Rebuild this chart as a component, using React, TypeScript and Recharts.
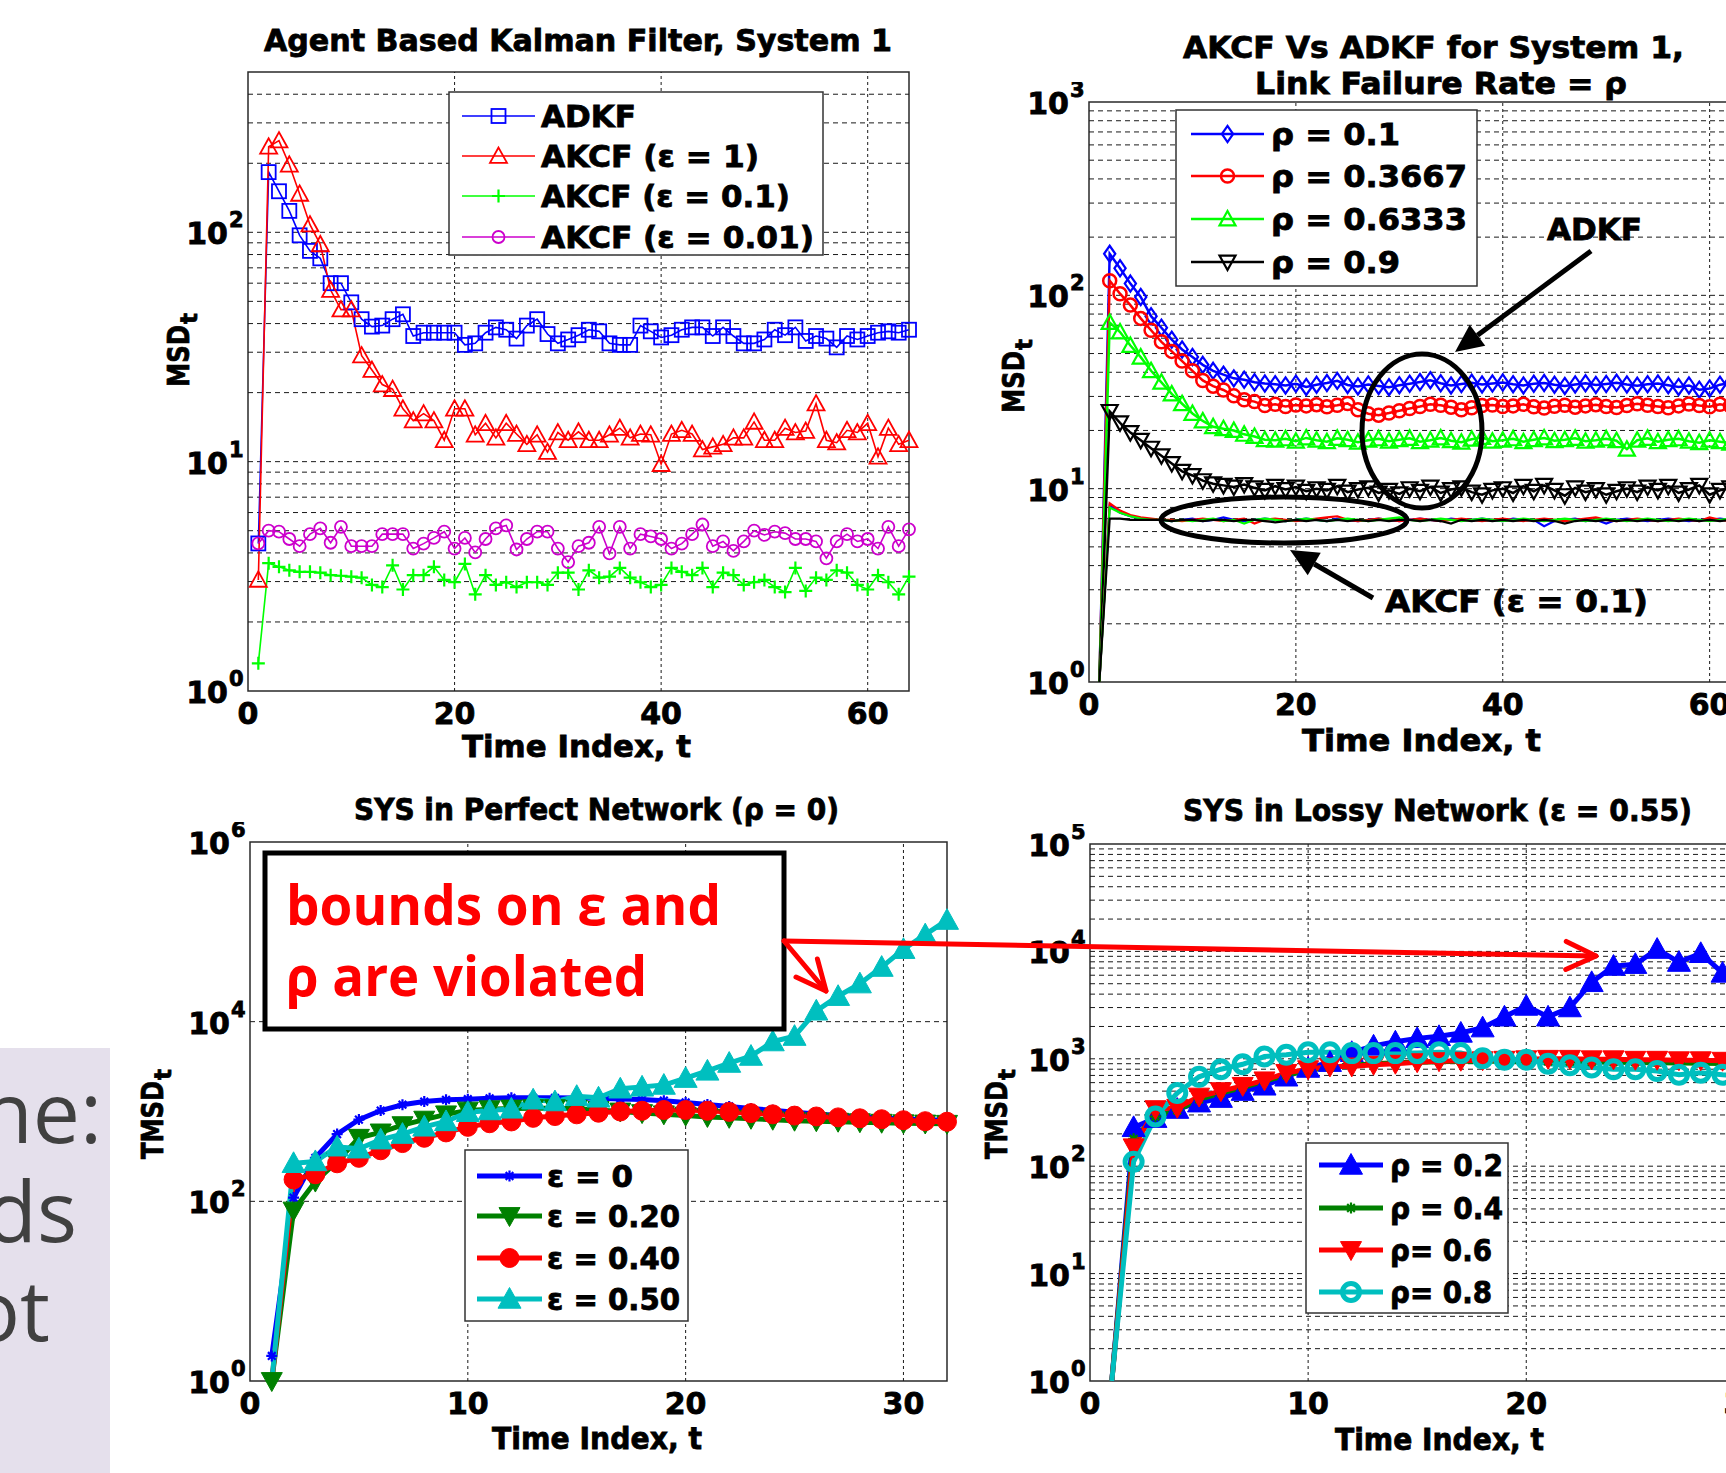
import React from "react";
import { LineChart, Line, XAxis, YAxis, ReferenceLine, ReferenceArea } from "recharts";

const MAT_FONT = "'DejaVu Sans', Verdana, sans-serif";
const SLIDE_FONT = "'Open Sans', 'Noto Sans', sans-serif";

// ---------- top left: Agent Based Kalman Filter, System 1 (t = 1..64)
const timeA = Array.from({ length: 64 }, (_, i) => i + 1);
const adkfA = [
  4.4, 183, 151, 124, 97, 83, 77, 60, 60, 49.5,
  41.8, 38.8, 39.2, 41.8, 43.9, 35.3, 36.5, 36.5, 36.5, 36.5,
  32.3, 32.8, 36.5, 38.5, 37.6, 34.4, 39.2, 41.8, 36, 32.8,
  34.1, 35.6, 37.6, 37, 32.8, 32.3, 32.3, 39.2, 37, 34.8,
  35.6, 37.6, 38.5, 38.5, 35.3, 38.5, 35.3, 32.8, 32.8, 34.1,
  37.6, 35.6, 38.5, 33.6, 35.3, 34.4, 31.5, 35.3, 34.1, 35.3,
  36.5, 37, 36.5, 37.6,
];
const akcfEps1A = [
  3.05, 236, 251, 197, 147, 108, 88.5, 56, 46, 46,
  29, 25.1, 21.7, 20.7, 17, 15.1, 16.2, 15.1, 12.4, 17,
  17, 13.1, 14.7, 12.7, 14.7, 13.2, 11.9, 13.1, 11, 13.4,
  12.4, 13.5, 12.4, 12.4, 13.1, 14, 12.7, 13.2, 13.1, 9.75,
  13.2, 13.7, 13.2, 11.3, 11.6, 11.9, 12.7, 12.7, 14.9, 12.4,
  12.4, 14, 13.4, 13.6, 17.9, 12.4, 12.1, 13.7, 13.4, 14.7,
  10.5, 14, 11.9, 12.4,
];
const akcfEps01A = [
  1.32, 3.61, 3.48, 3.36, 3.31, 3.31, 3.28, 3.2, 3.18, 3.15,
  3.12, 2.9, 2.84, 3.53, 2.77, 3.2, 3.2, 3.48, 3.05, 2.98,
  3.58, 2.64, 3.2, 2.9, 2.98, 2.84, 2.98, 2.98, 2.9, 3.28,
  3.28, 2.77, 3.36, 3.12, 3.15, 3.44, 3.12, 2.98, 2.84, 2.9,
  3.44, 3.31, 3.2, 3.44, 2.84, 3.28, 3.2, 2.9, 2.98, 3.05,
  2.84, 2.7, 3.44, 2.73, 3.12, 3.05, 3.36, 3.28, 2.9, 2.77,
  3.2, 2.98, 2.64, 3.15,
];
const akcfEps001A = [
  4.4, 5.0, 4.95, 4.6, 4.28, 4.83, 5.12, 4.43, 5.2, 4.28,
  4.28, 4.28, 4.83, 4.83, 4.83, 4.18, 4.39, 4.65, 4.95, 4.18,
  4.65, 4.02, 4.6, 5.12, 5.27, 4.14, 4.6, 4.95, 4.95, 4.18,
  3.65, 4.28, 4.43, 5.2, 3.98, 5.2, 4.18, 4.83, 4.72, 4.6,
  4.18, 4.39, 4.83, 5.32, 4.28, 4.49, 4.08, 4.49, 5.0, 4.79,
  4.95, 4.88, 4.6, 4.6, 4.49, 3.79, 4.49, 4.83, 4.49, 4.6,
  4.18, 5.2, 4.28, 5.07,
];

// ---------- top right: AKCF Vs ADKF, link failure rate rho (t = 1..64)
const timeB = Array.from({ length: 64 }, (_, i) => i + 1);
const adkfRho01B = [
  1, 164, 138, 115, 98, 78, 68, 59, 52.5, 48,
  43.7, 40.7, 38.9, 37.2, 36.6, 35.5, 35, 34.7, 34.2, 34.9,
  33.6, 34.5, 35.2, 36.1, 34.4, 33.8, 34.6, 34.0, 33.5, 34.3,
  34.9, 35.6, 36.4, 35.1, 34.2, 34.8, 35.3, 34.6, 35.0, 35.4,
  34.7, 34.2, 34.9, 35.2, 34.5, 34.0, 34.6, 35.1, 34.4, 34.8,
  35.3, 34.6, 34.1, 34.7, 35.0, 34.3, 33.6, 34.2, 32.5, 33.0,
  34.5, 35.2, 34.6, 34.9,
];
const adkfRho03667B = [
  1, 119, 102, 89, 76, 66, 57.5, 51.3, 45.7, 40.7,
  36.3, 33.9, 32.4, 30.2, 28.8, 28.2, 26.9, 27.3, 26.6, 27.1,
  26.8, 27.2, 26.5, 27.0, 27.6, 25.6, 24.4, 24.0, 24.6, 25.3,
  26.0, 26.6, 27.3, 27.0, 26.4, 25.6, 26.2, 26.9, 27.1, 26.6,
  26.8, 27.3, 26.5, 26.1, 26.7, 27.0, 26.4, 26.8, 27.2, 26.6,
  26.3, 26.9, 27.5, 27.0, 26.6, 26.2, 26.8, 27.4, 26.9, 26.5,
  27.3, 26.8, 27.1, 26.9,
];
const adkfRho06333B = [
  1, 72.4, 64.6, 55, 47.9, 40.7, 35.5, 30.9, 27.5, 24.5,
  22.4, 20.9, 20.4, 20, 19.1, 18.6, 17.9, 17.8, 18.1, 17.6,
  18.3, 17.8, 17.5, 18.2, 17.9, 17.4, 17.8, 18.1, 17.6, 17.9,
  18.2, 17.5, 17.8, 18.3, 17.7, 17.4, 18.0, 18.4, 17.6, 17.8,
  18.1, 17.5, 17.9, 18.3, 17.7, 17.9, 18.2, 17.6, 17.8, 18.1,
  17.7, 16.0, 17.8, 18.2, 17.5, 17.9, 18.1, 17.6, 17.3, 17.8,
  17.5, 17.2, 17.6, 17.4,
];
const adkfRho09B = [
  1, 25.1, 21.9, 19.5, 17.8, 16.2, 14.8, 13.5, 12.3, 11.7,
  11, 10.6, 10.4, 10.2, 10.5, 10.1, 9.8, 10.3, 9.9, 10.2,
  9.7, 10.0, 9.8, 10.3, 9.6, 9.9, 10.1, 9.5, 9.8, 9.4,
  10.0, 9.7, 10.2, 9.5, 9.9, 10.1, 9.6, 9.3, 9.8, 10.0,
  9.5, 10.3, 9.7, 10.4, 9.8, 9.2, 10.1, 9.6, 9.9, 9.3,
  9.7, 10.0, 9.6, 10.2, 9.8, 10.3, 9.5, 9.9, 10.4, 9.3,
  9.8, 10.1, 9.7, 9.9,
];
const akcfRho01B = [
  1, 8.2, 7.5, 7.2, 7.0, 6.9, 6.9, 6.8, 6.9, 7.0,
  6.8, 6.9, 7.1, 6.9, 6.8, 6.9, 7.0, 6.9, 6.8, 6.9,
  7.0, 6.9, 6.8, 7.0, 6.9, 6.8, 6.9, 7.0, 6.9, 6.8,
  6.9, 7.0, 6.9, 6.8, 7.0, 6.9, 6.9, 7.0, 6.9, 6.8,
  7.0, 6.9, 6.9, 6.4, 6.8, 6.9, 7.0, 6.8, 6.9, 6.6,
  6.9, 7.0, 6.9, 6.8, 6.9, 7.0, 6.9, 6.8, 6.9, 6.9,
  7.0, 6.9, 6.9, 6.9,
];
const akcfRho03667B = [
  1, 8.4, 7.7, 7.3, 7.1, 7.0, 6.9, 6.9, 6.8, 6.9,
  7.0, 6.9, 6.8, 6.9, 7.0, 6.6, 6.9, 7.0, 6.9, 6.8,
  6.9, 7.0, 7.1, 7.2, 6.9, 6.8, 6.9, 7.0, 6.9, 6.8,
  6.9, 7.0, 6.9, 6.8, 6.9, 7.0, 6.9, 6.8, 6.9, 7.0,
  6.9, 6.8, 6.9, 7.0, 6.9, 6.8, 6.9, 7.0, 7.1, 6.9,
  6.8, 6.9, 7.0, 6.9, 6.8, 6.9, 7.0, 6.9, 6.8, 7.1,
  6.9, 6.8, 6.9, 7.0,
];
const akcfRho06333B = [
  1, 8.0, 7.5, 7.2, 7.0, 6.9, 6.9, 6.8, 6.9, 6.8,
  6.9, 7.0, 6.8, 6.9, 6.6, 6.9, 7.0, 6.9, 6.8, 6.9,
  7.0, 6.9, 6.8, 6.9, 7.0, 6.9, 6.8, 6.9, 7.0, 7.1,
  6.9, 6.8, 6.9, 7.0, 6.9, 6.8, 6.9, 7.0, 6.9, 6.8,
  6.9, 7.0, 6.9, 6.8, 6.9, 7.0, 6.9, 6.8, 6.9, 7.0,
  6.9, 6.8, 6.9, 7.0, 6.9, 6.8, 6.9, 7.0, 6.9, 6.8,
  6.9, 7.0, 6.9, 6.9,
];
const akcfRho09B = [
  1, 7.0, 7.0, 6.9, 6.9, 6.9, 6.9, 6.8, 6.9, 6.9,
  6.8, 6.9, 6.9, 6.8, 6.9, 6.9, 6.8, 6.7, 6.8, 6.9,
  6.8, 6.9, 6.8, 6.9, 6.8, 6.9, 6.8, 6.9, 6.8, 6.9,
  6.9, 6.8, 6.9, 6.8, 6.6, 6.9, 6.8, 6.9, 6.8, 6.9,
  6.8, 6.9, 6.8, 6.9, 6.8, 6.6, 6.8, 6.9, 6.8, 6.9,
  6.8, 6.9, 6.8, 6.9, 6.8, 6.9, 6.8, 6.9, 6.8, 6.9,
  6.8, 6.9, 6.8, 6.9,
];

// ---------- bottom left: SYS in Perfect Network (t = 1..32)
const timeC = Array.from({ length: 32 }, (_, i) => i + 1);
const eps0C = [
  1.9, 110, 305, 560, 812, 1025, 1190, 1290, 1350, 1370,
  1400, 1420, 1420, 1420, 1410, 1400, 1380, 1360, 1320, 1260,
  1200, 1140, 1080, 1030, 980, 940, 900, 870, 850, 830,
  810, 800,
];
const eps020C = [
  1, 79, 166, 278, 510, 585, 705, 812, 930, 1025,
  1060, 1080, 1090, 1090, 1070, 1040, 1000, 960, 930, 900,
  870, 850, 830, 810, 790, 780, 770, 760, 750, 740,
  735, 730,
];
const eps040C = [
  1, 175, 200, 265, 305, 370, 445, 510, 585, 675,
  740, 775, 850, 890, 930, 970, 1000, 1020, 1040, 1040,
  1020, 990, 960, 930, 900, 880, 860, 840, 820, 800,
  780, 770,
];
const eps050C = [
  1, 265, 278, 405, 385, 485, 560, 675, 775, 980,
  1025, 1070, 1350, 1290, 1480, 1420, 1790, 1880, 1970, 2350,
  2830, 3460, 4140, 6000, 6900, 13200, 19200, 26500, 40500, 64000,
  93000, 135000,
];

// ---------- bottom right: SYS in Lossy Network (t = 1..30, cropped at the page edge)
const timeD = Array.from({ length: 30 }, (_, i) => i + 1);
const rho02D = [
  1, 230, 280, 340, 390, 430, 500, 560, 680, 820,
  930, 1150, 1320, 1440, 1550, 1620, 1740, 1950, 2460, 3100,
  2460, 3000, 5150, 7300, 7600, 10500, 7950, 9600, 6300,
];
const rho04D = [
  1, 180, 290, 330, 420, 480, 540, 620, 700, 780,
  830, 870, 900, 920, 930, 940, 950, 950, 950, 950,
  945, 940, 935, 930, 925, 920, 915, 910, 905, 900,
];
const rho06D = [
  1, 150, 340, 350, 445, 500, 560, 630, 740, 800,
  850, 850, 880, 900, 930, 950, 960, 970, 980, 990,
  1000, 1000, 990, 990, 980, 980, 970, 970, 960, 960,
];
const rho08D = [
  1, 110, 290, 480, 680, 800, 890, 1050, 1090, 1150,
  1150, 1130, 1130, 1130, 1130, 1150, 1130, 1010, 980, 980,
  900, 870, 830, 800, 800, 770, 710, 740, 710, 700,
];

// ---------- drawing helpers
type MarkerKind = "square" | "triUp" | "triDown" | "plus" | "circle" | "diamond" | "star";

interface Series {
  key: string;
  label: string;
  labelWidth: number;
  values: number[];
  color: string;
  width: number;
  marker?: MarkerKind;
  size?: number;
  filled?: boolean;
  mw?: number;
  markFloor?: boolean;
}

function markerShape(kind: MarkerKind, x: number, y: number, size: number, color: string, filled: boolean, sw: number) {
  const h = size / 2;
  const common = { stroke: color, strokeWidth: sw, fill: filled ? color : "none" };
  switch (kind) {
    case "square":
      return <rect x={x - h} y={y - h} width={size} height={size} {...common} />;
    case "circle":
      return <circle cx={x} cy={y} r={h} {...common} />;
    case "triUp":
      return <polygon points={`${x},${y - h} ${x - h},${y + h * 0.8} ${x + h},${y + h * 0.8}`} {...common} />;
    case "triDown":
      return <polygon points={`${x},${y + h} ${x - h},${y - h * 0.8} ${x + h},${y - h * 0.8}`} {...common} />;
    case "diamond":
      return <polygon points={`${x},${y - h * 1.15} ${x + h * 0.8},${y} ${x},${y + h * 1.15} ${x - h * 0.8},${y}`} {...common} />;
    case "plus":
      return <path d={`M${x - h},${y}H${x + h}M${x},${y - h}V${y + h}`} {...common} fill="none" />;
    case "star": {
      const d = h * 0.7;
      return (
        <path
          d={`M${x - h},${y}H${x + h}M${x},${y - h}V${y + h}M${x - d},${y - d}L${x + d},${y + d}M${x - d},${y + d}L${x + d},${y - d}`}
          {...common}
          fill="none"
        />
      );
    }
  }
  return null;
}

const dotFor = (s: Series, yMin: number) => (p: any) => {
  const k = `${s.key}-${p.index}`;
  if (!s.marker || p.value == null || p.cy == null || !isFinite(p.cy)) return <g key={k} />;
  if (p.value <= yMin * 1.0001 && !s.markFloor) return <g key={k} />;
  return <g key={k}>{markerShape(s.marker, p.cx, p.cy, s.size ?? 12, s.color, !!s.filled, s.mw ?? 2)}</g>;
};

function minorGrid(min: number, max: number) {
  const out: number[] = [];
  for (let k = Math.floor(Math.log10(min)); k <= Math.ceil(Math.log10(max)); k++) {
    for (let m = 1; m <= 9; m++) {
      const v = m * Math.pow(10, k);
      if (v > min * 1.001 && v < max * 0.999) out.push(v);
    }
  }
  return out;
}

// MATLAB's bold text is heavier than DejaVu Bold: a thin stroke of the same colour makes up for it
const heavy = { stroke: "#000", strokeWidth: 0.8 };

function XTick(props: any) {
  const { x, y, payload } = props;
  return (
    <text x={x} y={y + 33} textAnchor="middle" fontFamily={MAT_FONT} fontWeight="bold" fontSize={30} fill="#000" {...heavy}>
      {payload.value}
    </text>
  );
}

function YTick(props: any) {
  const { x, y, payload } = props;
  const e = Math.round(Math.log10(payload.value));
  return (
    <g>
      <text x={x - 20} y={y + 12} textAnchor="end" fontFamily={MAT_FONT} fontWeight="bold" fontSize={30} fill="#000" {...heavy}>
        10
      </text>
      <text x={x - 19} y={y - 5} textAnchor="start" fontFamily={MAT_FONT} fontWeight="bold" fontSize={21} fill="#000" {...heavy}>
        {e}
      </text>
    </g>
  );
}

interface PanelSpec {
  id: string;
  left: number;
  top: number;
  width: number;
  height: number;
  time: number[];
  xDomain: [number, number];
  xTicks: number[];
  yDomain: [number, number];
  yTicks: number[];
  xGrid: number[];
  yGrid: number[];
  series: Series[];
}

function Panel({ spec }: { spec: PanelSpec }) {
  const data = spec.time.map((t, i) => {
    const row: Record<string, number | undefined> = { t };
    spec.series.forEach((s) => {
      row[s.key] = s.values[i];
    });
    return row;
  });
  return (
    <div style={{ position: "absolute", left: spec.left - 80, top: spec.top - 20 }}>
      <LineChart
        width={spec.width + 100}
        height={spec.height + 80}
        data={data}
        margin={{ top: 20, right: 20, bottom: 0, left: 0 }}
      >
        <XAxis
          dataKey="t"
          type="number"
          domain={spec.xDomain}
          ticks={spec.xTicks}
          interval={0}
          height={60}
          tickLine={false}
          axisLine={false}
          tickSize={0}
          tickMargin={0}
          tick={(p: any) => <XTick {...p} />}
        />
        <YAxis
          type="number"
          scale="log"
          domain={spec.yDomain}
          ticks={spec.yTicks}
          interval={0}
          width={80}
          tickLine={false}
          axisLine={false}
          tickSize={0}
          tickMargin={0}
          tick={(p: any) => <YTick {...p} />}
        />
        {spec.yGrid.map((v) => (
          <ReferenceLine key={`${spec.id}-gy-${v}`} y={v} stroke="#1a1a1a" strokeWidth={1} strokeDasharray="5 4" />
        ))}
        {spec.xGrid.map((v) => (
          <ReferenceLine key={`${spec.id}-gx-${v}`} x={v} stroke="#1a1a1a" strokeWidth={1} strokeDasharray="3 3" />
        ))}
        <ReferenceArea
          x1={spec.xDomain[0]}
          x2={spec.xDomain[1]}
          y1={spec.yDomain[0]}
          y2={spec.yDomain[1]}
          fill="none"
          stroke="#2a2a2a"
          strokeWidth={1.5}
        />
        {spec.series.map((s) => (
          <Line
            key={s.key}
            dataKey={s.key}
            type="linear"
            stroke={s.color}
            strokeWidth={s.width}
            dot={s.marker ? dotFor(s, spec.yDomain[0]) : false}
            activeDot={false}
            isAnimationActive={false}
          />
        ))}
      </LineChart>
    </div>
  );
}

// ---------- series definitions
const seriesA: Series[] = [
  { key: "adkf", label: "ADKF", labelWidth: 95, values: adkfA, color: "#0000ff", width: 1.6, marker: "square", size: 14, mw: 1.8 },
  { key: "e1", label: "AKCF (ε = 1)", labelWidth: 218, values: akcfEps1A, color: "#ff0000", width: 1.6, marker: "triUp", size: 17, mw: 1.8 },
  { key: "e01", label: "AKCF (ε = 0.1)", labelWidth: 249, values: akcfEps01A, color: "#00ff00", width: 1.6, marker: "plus", size: 13, mw: 2.2 },
  { key: "e001", label: "AKCF (ε = 0.01)", labelWidth: 273, values: akcfEps001A, color: "#cc00cc", width: 1.6, marker: "circle", size: 12, mw: 1.8 },
];

const seriesB: Series[] = [
  { key: "r1", label: "ρ = 0.1", labelWidth: 129, values: adkfRho01B, color: "#0000ff", width: 2.5, marker: "diamond", size: 14, mw: 2.2 },
  { key: "r2", label: "ρ = 0.3667", labelWidth: 196, values: adkfRho03667B, color: "#ff0000", width: 2.5, marker: "circle", size: 13, mw: 2.5 },
  { key: "r3", label: "ρ = 0.6333", labelWidth: 196, values: adkfRho06333B, color: "#00ff00", width: 2.5, marker: "triUp", size: 16, mw: 2.2 },
  { key: "r4", label: "ρ = 0.9", labelWidth: 129, values: adkfRho09B, color: "#000000", width: 2.5, marker: "triDown", size: 16, mw: 2.2 },
  { key: "k1", label: "", labelWidth: 0, values: akcfRho01B, color: "#0000ff", width: 2.2 },
  { key: "k2", label: "", labelWidth: 0, values: akcfRho03667B, color: "#ff0000", width: 2.2 },
  { key: "k3", label: "", labelWidth: 0, values: akcfRho06333B, color: "#00ff00", width: 2.2 },
  { key: "k4", label: "", labelWidth: 0, values: akcfRho09B, color: "#000000", width: 2.2 },
];

const seriesC: Series[] = [
  { key: "c0", label: "ε = 0", labelWidth: 86, values: eps0C, color: "#0000ff", width: 5, marker: "star", size: 11, mw: 2.2 },
  { key: "c2", label: "ε = 0.20", labelWidth: 133, values: eps020C, color: "#008000", width: 5, marker: "triDown", size: 21, filled: true, mw: 1, markFloor: true },
  { key: "c4", label: "ε = 0.40", labelWidth: 133, values: eps040C, color: "#ff0000", width: 5, marker: "circle", size: 19, filled: true, mw: 1 },
  { key: "c5", label: "ε = 0.50", labelWidth: 133, values: eps050C, color: "#00bfbf", width: 5, marker: "triUp", size: 23, filled: true, mw: 1 },
];

const seriesD: Series[] = [
  { key: "d2", label: "ρ = 0.2", labelWidth: 113, values: rho02D, color: "#0000ff", width: 5, marker: "triUp", size: 23, filled: true, mw: 1 },
  { key: "d4", label: "ρ = 0.4", labelWidth: 113, values: rho04D, color: "#008000", width: 5, marker: "star", size: 11, mw: 2.2 },
  { key: "d6", label: "ρ= 0.6", labelWidth: 102, values: rho06D, color: "#ff0000", width: 5, marker: "triDown", size: 21, filled: true, mw: 1 },
  { key: "d8", label: "ρ= 0.8", labelWidth: 102, values: rho08D, color: "#00bfbf", width: 5, marker: "circle", size: 17, mw: 5 },
];

const panels: PanelSpec[] = [
  {
    id: "A", left: 248, top: 72, width: 661, height: 619, time: timeA,
    xDomain: [0, 64], xTicks: [0, 20, 40, 60], yDomain: [1, 500], yTicks: [1, 10, 100],
    xGrid: [20, 40, 60], yGrid: minorGrid(1, 500), series: seriesA,
  },
  {
    id: "B", left: 1089, top: 102, width: 662, height: 580, time: timeB,
    xDomain: [0, 64], xTicks: [0, 20, 40, 60], yDomain: [1, 1000], yTicks: [1, 10, 100, 1000],
    xGrid: [20, 40, 60], yGrid: minorGrid(1, 1000), series: seriesB,
  },
  {
    id: "C", left: 250, top: 842, width: 697, height: 539, time: timeC,
    xDomain: [0, 32], xTicks: [0, 10, 20, 30], yDomain: [1, 1000000], yTicks: [1, 100, 10000, 1000000],
    xGrid: [10, 20, 30], yGrid: [100, 10000], series: seriesC,
  },
  {
    id: "D", left: 1090, top: 844, width: 698, height: 537, time: timeD,
    xDomain: [0, 32], xTicks: [0, 10, 20, 30], yDomain: [1, 100000], yTicks: [1, 10, 100, 1000, 10000, 100000],
    xGrid: [10, 20, 30], yGrid: minorGrid(1, 100000), series: seriesD,
  },
];

// ---------- legends
interface LegendSpec {
  x: number; y: number; w: number; h: number;
  rows: number[]; lineX1: number; lineX2: number; textX: number;
  series: Series[];
}

const legends: LegendSpec[] = [
  { x: 449, y: 92, w: 374, h: 163, rows: [116, 156, 196, 237], lineX1: 462, lineX2: 535, textX: 541, series: seriesA },
  { x: 1176, y: 110, w: 301, h: 176, rows: [134, 176, 219, 262], lineX1: 1191, lineX2: 1264, textX: 1271, series: seriesB.slice(0, 4) },
  { x: 465, y: 1150, w: 223, h: 171, rows: [1176, 1216, 1258, 1299], lineX1: 477, lineX2: 542, textX: 547, series: seriesC },
  { x: 1306, y: 1143, w: 202, h: 170, rows: [1165, 1208, 1250, 1292], lineX1: 1319, lineX2: 1383, textX: 1390, series: seriesD },
];

function LegendBox({ lg }: { lg: LegendSpec }) {
  return (
    <g>
      <rect x={lg.x} y={lg.y} width={lg.w} height={lg.h} fill="#fff" stroke="#333" strokeWidth={1.5} />
      {lg.series.map((s, i) => {
        const cy = lg.rows[i];
        const mx = (lg.lineX1 + lg.lineX2) / 2;
        return (
          <g key={s.key}>
            <line x1={lg.lineX1} y1={cy} x2={lg.lineX2} y2={cy} stroke={s.color} strokeWidth={s.width} />
            {s.marker && markerShape(s.marker, mx, cy, s.size ?? 12, s.color, !!s.filled, s.mw ?? 2)}
            <text
              x={lg.textX}
              y={cy + 11}
              fontFamily={MAT_FONT}
              fontWeight="bold"
              fontSize={30}
              fill="#000"
              {...heavy}
              textLength={s.labelWidth}
              lengthAdjust="spacingAndGlyphs"
            >
              {s.label}
            </text>
          </g>
        );
      })}
    </g>
  );
}

// ---------- annotation helpers
function head(x1: number, y1: number, x2: number, y2: number, len: number, half: number) {
  const L = Math.hypot(x2 - x1, y2 - y1);
  const ux = (x2 - x1) / L;
  const uy = (y2 - y1) / L;
  const bx = x2 - ux * len;
  const by = y2 - uy * len;
  return { bx, by, p1: [bx - uy * half, by + ux * half], p2: [bx + uy * half, by - ux * half] };
}

function ChevronArrow({ x1, y1, x2, y2, color }: { x1: number; y1: number; x2: number; y2: number; color: string }) {
  const h = head(x1, y1, x2, y2, 30, 14);
  return (
    <g stroke={color} strokeWidth={5} fill="none" strokeLinecap="round" strokeLinejoin="round">
      <line x1={x1} y1={y1} x2={x2} y2={y2} />
      <path d={`M${h.p1[0]},${h.p1[1]}L${x2},${y2}L${h.p2[0]},${h.p2[1]}`} />
    </g>
  );
}

function SolidArrow({ x1, y1, x2, y2 }: { x1: number; y1: number; x2: number; y2: number }) {
  const h = head(x1, y1, x2, y2, 28, 13);
  return (
    <g>
      <line x1={x1} y1={y1} x2={h.bx} y2={h.by} stroke="#000" strokeWidth={5} />
      <polygon points={`${x2},${y2} ${h.p1[0]},${h.p1[1]} ${h.p2[0]},${h.p2[1]}`} fill="#000" />
    </g>
  );
}

function MatText({ x, y, w, children, size = 30 }: { x: number; y: number; w: number; children: React.ReactNode; size?: number }) {
  return (
    <text x={x} y={y} fontFamily={MAT_FONT} fontWeight="bold" fontSize={size} fill="#000" {...heavy} textLength={w} lengthAdjust="spacingAndGlyphs">
      {children}
    </text>
  );
}

function YLabel({ x, y, main, len }: { x: number; y: number; main: string; len: number }) {
  return (
    <g transform={`translate(${x},${y}) rotate(-90)`}>
      <text x={-len / 2 - 6} y={0} fontFamily={MAT_FONT} fontWeight="bold" fontSize={30} fill="#000" {...heavy} textLength={len} lengthAdjust="spacingAndGlyphs">
        {main}
      </text>
      <text x={len / 2 - 5} y={8} fontFamily={MAT_FONT} fontWeight="bold" fontSize={23} fill="#000" {...heavy}>
        t
      </text>
    </g>
  );
}

function Overlay() {
  return (
    <svg width={1726} height={1473} style={{ position: "absolute", left: 0, top: 0, pointerEvents: "none" }}>
      {/* slide text behind the figure */}
      <rect x={0} y={1048} width={110} height={425} fill="#e5e0ec" />
      <g fontFamily={SLIDE_FONT} fontSize={84} fill="#404040" textAnchor="end">
        <text x={102} y={1143}>ne:</text>
        <text x={77} y={1242}>ds</text>
        <text x={50} y={1341}>ot</text>
      </g>

      {/* titles */}
      <MatText x={264} y={51} w={628}>Agent Based Kalman Filter, System 1</MatText>
      <MatText x={1183} y={58} w={501}>AKCF Vs ADKF for System 1,</MatText>
      <MatText x={1255} y={94} w={372}>Link Failure Rate = ρ</MatText>
      <MatText x={354} y={820} w={485}>SYS in Perfect Network (ρ = 0)</MatText>
      <MatText x={1183} y={821} w={509}>SYS in Lossy Network (ε = 0.55)</MatText>

      {/* axis labels */}
      <MatText x={462} y={757} w={229}>Time Index, t</MatText>
      <MatText x={1302} y={751} w={239}>Time Index, t</MatText>
      <MatText x={492} y={1449} w={210}>Time Index, t</MatText>
      <MatText x={1335} y={1450} w={209}>Time Index, t</MatText>
      <YLabel x={189} y={350} main="MSD" len={62} />
      <YLabel x={1024} y={376} main="MSD" len={62} />
      <YLabel x={163} y={1114} main="TMSD" len={78} />
      <YLabel x={1007} y={1114} main="TMSD" len={78} />

      {legends.map((lg, i) => (
        <LegendBox key={i} lg={lg} />
      ))}

      {/* annotations, top right */}
      <g fill="none" stroke="#000" strokeWidth={5}>
        <ellipse cx={1422} cy={431} rx={60} ry={77} />
        <ellipse cx={1284} cy={520} rx={123} ry={23} />
      </g>
      <MatText x={1547} y={240} w={95}>ADKF</MatText>
      <SolidArrow x1={1591} y1={251} x2={1455} y2={352} />
      <MatText x={1385} y={612} w={263}>AKCF (ε = 0.1)</MatText>
      <SolidArrow x1={1373} y1={598} x2={1290} y2={550} />

      {/* annotation, bottom */}
      <rect x={265} y={853} width={519} height={176} fill="#fff" stroke="#000" strokeWidth={5} />
      <g fontFamily={SLIDE_FONT} fontWeight="bold" fontSize={56} fill="#ff0000">
        <text x={286} y={925} textLength={435} lengthAdjust="spacingAndGlyphs">bounds on ε and</text>
        <text x={286} y={996} textLength={361} lengthAdjust="spacingAndGlyphs">ρ are violated</text>
      </g>
      <ChevronArrow x1={784} y1={941} x2={1596} y2={956} color="#ff0000" />
      <ChevronArrow x1={784} y1={941} x2={826} y2={991} color="#ff0000" />
    </svg>
  );
}

export default function App() {
  return (
    <div
      style={{
        position: "fixed",
        left: 0,
        top: 0,
        width: 1726,
        height: 1473,
        overflow: "hidden",
        background: "#fff",
      }}
    >
      {panels.map((p) => (
        <Panel key={p.id} spec={p} />
      ))}
      <Overlay />
    </div>
  );
}
